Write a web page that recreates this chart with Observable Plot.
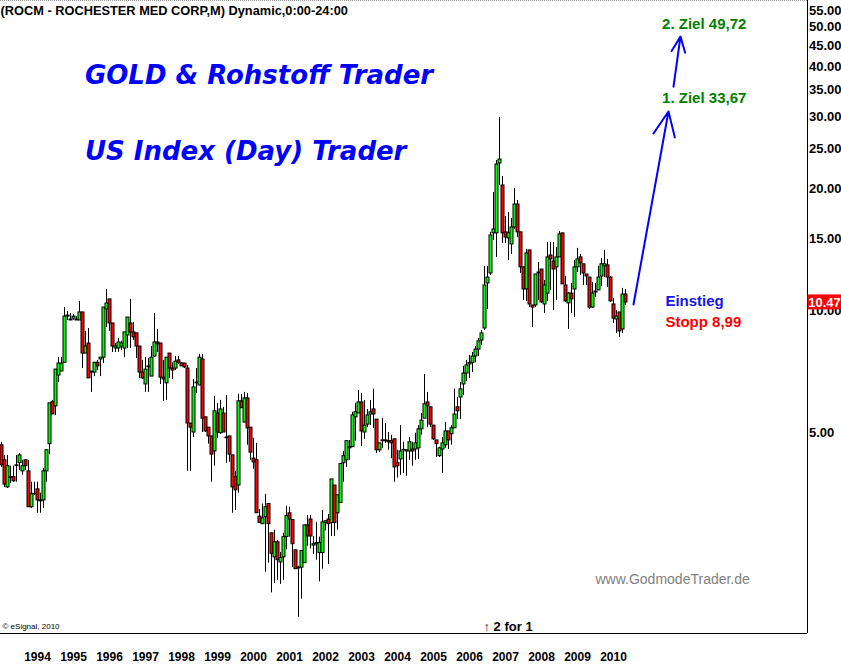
<!DOCTYPE html>
<html><head><meta charset="utf-8">
<script src="https://cdn.jsdelivr.net/npm/d3@7"></script>
<script src="https://cdn.jsdelivr.net/npm/@observablehq/plot@0.6"></script>
<style>
html,body{margin:0;padding:0;background:#fff;overflow:hidden}
#chart svg{display:block}
</style></head><body><div id="chart"></div>
<script>
// Monthly bars of ROCM, first bar = January 1993
const startYear = 1993;
const open = [
4.65,4.27,3.66,3.88,3.88,4.13,4.20,4.01,4.27,4.01,
3.27,3.52,3.62,3.38,3.40,4.01,4.68,5.94,5.80,6.91,
7.07,7.43,9.66,9.50,9.55,9.50,9.45,9.89,7.83,8.29,
7.03,7.03,7.43,7.57,7.65,10.06,10.65,9.29,8.06,8.06,
8.15,8.06,8.68,9.29,8.83,8.78,8.15,7.03,6.57,7.24,
6.87,7.70,8.34,8.29,6.83,6.61,7.83,7.19,7.19,7.53,
7.40,7.40,7.19,5.26,5.00,6.61,6.53,7.57,5.45,5.14,
4.89,4.49,5.57,4.98,5.57,4.86,4.89,4.39,3.88,3.70,
5.97,5.29,6.07,5.14,4.31,4.27,3.10,2.97,3.09,3.33,
2.82,2.46,2.68,2.39,2.46,2.76,3.16,3.04,2.56,2.32,
2.32,2.38,2.95,3.05,2.63,2.65,2.52,2.52,2.99,3.05,
2.99,3.70,3.16,3.35,4.20,4.27,4.57,4.60,5.45,5.57,
5.93,5.00,5.23,5.54,5.70,5.38,4.52,4.76,4.78,4.76,
4.76,4.81,4.20,4.29,4.52,4.49,4.49,4.54,4.54,4.57,
5.09,5.41,5.93,5.77,5.20,4.78,4.37,4.54,4.65,5.03,
4.95,5.12,5.77,6.10,6.57,6.99,7.36,7.43,7.70,8.01,
8.43,9.03,11.66,12.34,15.50,15.50,23.05,20.35,15.59,15.06,
14.55,16.03,18.26,15.59,12.78,11.27,14.07,10.29,10.29,12.34,
12.62,10.35,11.01,13.67,13.22,12.78,13.52,15.50,11.53,10.41,
11.01,11.27,12.78,13.52,13.00,12.27,12.06,10.17,11.08,11.21,
12.13,12.85,12.92,12.06,10.35,9.50,9.89,8.98,10.95];
const high = [
4.73,4.39,4.39,4.13,4.13,4.39,4.44,4.27,4.29,4.27,
3.77,3.77,3.77,3.54,4.08,4.52,5.90,6.00,7.15,7.65,
7.65,10.17,9.94,9.83,9.78,9.66,10.53,9.89,8.88,9.03,
7.07,7.43,7.53,7.65,10.17,11.27,10.65,9.29,8.29,8.53,
8.39,8.83,9.61,10.65,9.34,8.78,8.15,7.53,7.65,7.61,
8.15,9.83,8.98,8.29,7.53,7.65,7.83,7.43,7.70,7.70,
7.43,7.40,7.32,5.26,6.76,7.19,7.79,7.79,5.45,5.14,
4.89,6.14,5.90,6.00,5.77,6.17,4.89,4.39,4.01,6.21,
6.21,6.28,6.24,5.14,4.84,4.70,3.23,3.33,3.52,3.33,
2.82,2.87,2.71,2.53,2.82,3.29,3.27,3.04,2.56,2.34,
2.55,2.95,3.12,3.12,2.77,3.00,2.76,3.21,3.02,3.14,
3.83,3.70,3.50,4.18,4.49,4.76,4.78,5.61,5.90,6.35,
6.24,6.00,5.70,6.00,6.39,5.38,4.70,5.41,5.26,5.00,
4.92,4.81,4.52,5.20,4.73,4.52,4.86,4.73,4.98,5.20,
5.57,6.95,6.28,5.77,5.20,4.78,4.60,4.86,5.29,5.03,
5.20,6.39,6.10,6.64,7.28,7.53,7.74,7.88,8.15,8.53,
8.93,12.85,12.85,15.59,19.56,23.45,29.94,21.42,17.06,17.45,
16.87,20.01,18.69,15.59,12.78,14.15,14.07,10.29,12.27,13.14,
12.62,11.86,14.72,14.72,14.72,14.31,15.67,15.50,12.13,11.08,
11.66,13.29,14.23,13.75,13.00,12.27,12.06,11.73,11.66,12.85,
13.44,14.07,13.37,12.13,10.71,10.00,9.89,11.34,11.27];
const low = [
4.10,3.66,3.64,3.74,3.77,3.77,4.03,3.92,4.03,3.27,
3.25,3.50,3.16,3.16,3.25,3.77,4.41,5.54,5.51,6.64,
7.07,7.43,9.45,9.45,9.45,9.45,9.45,7.19,7.83,6.80,
6.28,6.87,7.11,6.87,7.40,9.08,8.88,7.88,7.88,7.88,
7.97,7.65,8.06,8.06,8.43,7.61,6.80,6.76,6.28,6.28,
6.87,7.65,7.88,6.57,5.97,6.00,6.80,6.76,7.11,7.36,
7.28,7.19,4.01,4.01,4.86,6.24,6.53,5.00,5.00,4.68,
3.77,4.13,4.84,4.95,5.00,4.20,4.22,3.16,3.21,3.54,
5.74,5.29,4.65,4.27,4.06,3.16,2.99,2.97,2.26,2.38,
2.01,2.12,2.16,2.11,2.16,2.57,2.76,2.32,2.30,1.75,
1.94,2.38,2.62,2.58,2.50,2.42,2.14,2.30,2.86,2.36,
2.77,2.77,2.87,3.35,3.77,4.10,4.27,4.60,4.76,5.57,
4.62,4.81,5.14,5.20,5.12,4.44,4.46,4.57,4.70,4.52,
4.31,3.77,3.86,3.92,3.96,3.90,4.27,4.13,4.27,4.29,
4.92,5.41,5.14,5.14,4.78,4.34,4.34,3.96,4.57,4.54,
4.65,5.12,5.38,5.38,6.17,6.68,6.80,7.03,7.43,7.70,
8.20,8.93,10.06,12.20,14.89,13.52,20.35,14.64,14.64,13.29,
13.75,15.85,15.14,12.34,10.59,10.53,10.17,9.08,10.17,10.59,
10.41,9.83,10.53,11.21,10.00,10.59,13.52,11.60,10.47,8.98,
9.83,9.61,12.41,12.20,11.53,11.53,10.06,10.12,10.77,11.21,
11.46,12.06,11.40,10.47,9.29,8.78,8.58,8.78,10.29];
const close = [
4.15,3.72,4.13,3.86,3.79,4.15,4.39,4.13,4.13,3.27,
3.52,3.53,3.40,3.40,4.01,4.52,5.90,5.54,7.15,7.40,
7.40,9.66,9.72,9.45,9.66,9.45,9.89,7.83,8.15,6.80,
7.07,7.43,7.28,7.65,10.17,10.41,9.29,8.15,8.15,8.34,
8.29,8.83,9.61,8.83,8.58,8.15,7.03,6.80,7.15,7.28,
7.65,8.34,8.25,6.83,6.76,7.65,7.19,7.11,7.48,7.43,
7.28,7.24,5.26,5.14,6.46,6.64,7.65,5.41,5.03,4.89,
4.41,5.64,5.00,5.70,5.00,4.84,4.41,3.66,3.60,5.97,
5.74,6.07,5.12,4.46,4.22,3.16,2.99,3.07,3.27,2.97,
2.51,2.68,2.42,2.45,2.76,3.11,3.05,2.65,2.30,2.31,
2.55,2.95,2.77,2.77,2.65,2.67,2.67,3.00,3.02,2.97,
3.83,2.99,3.50,4.18,4.37,4.76,4.60,5.51,5.61,5.93,
5.03,5.20,5.51,5.61,5.54,4.52,4.70,4.78,4.76,4.73,
4.70,4.10,4.13,4.49,4.53,4.52,4.73,4.49,4.70,5.09,
5.35,5.87,5.80,5.23,4.81,4.68,4.57,4.70,5.03,4.78,
5.12,5.54,5.64,6.39,6.99,7.32,7.43,7.70,8.01,8.39,
8.78,11.53,12.06,15.32,15.85,22.92,23.58,15.50,15.14,15.50,
16.03,18.26,15.59,12.78,11.27,13.83,10.35,10.17,12.27,12.41,
10.47,11.53,13.52,13.37,12.62,13.52,15.41,11.60,10.53,11.01,
10.65,12.78,13.37,13.07,12.34,12.13,10.17,11.01,11.14,12.06,
13.00,13.00,12.06,10.53,9.55,9.66,8.88,10.95,10.47];

const yearTicks = [1994,1995,1996,1997,1998,1999,2000,2001,2002,2003,2004,2005,2006,2007,2008,2009,2010];
const priceTicks = [5,10,15,20,25,30,35,40,45,50,55];
const titleText = "(ROCM - ROCHESTER MED CORP,M) Dynamic,0:00-24:00";
const headlines = ["GOLD & Rohstoff Trader", "US Index (Day) Trader"];
const targetLabels = ["2. Ziel 49,72", "1. Ziel 33,67"];
const entryLabel = "Einstieg";
const stopLabel = "Stopp 8,99";
const watermark = "www.GodmodeTrader.de";
const splitNote = "\u2191 2 for 1";
const copyright = "\u00a9 eSignal, 2010";

const bars = open.map((o, i) => ({i, o, h: high[i], l: low[i], c: close[i]}));
const last = bars[bars.length - 1];
const xDomain = [-1 / 3, 806 / 3];
const yDomain = [1.596, 58.2];
const GREEN = "#00ff00", RED = "#ff0000";
const F = "'Liberation Sans', Arial, Helvetica, sans-serif";
const HF = "'DejaVu Sans', sans-serif";

const chart = Plot.plot({
  width: 841, height: 664,
  marginTop: 0, marginBottom: 31, marginLeft: 0, marginRight: 34,
  style: {fontFamily: F, background: "#fff", color: "#000", overflow: "visible"},
  x: {type: "linear", domain: xDomain, axis: null},
  y: {type: "log", domain: yDomain, axis: null},
  marks: [
    Plot.ruleY([yDomain[1]], {stroke: "#999", strokeDasharray: "1,1"}),
    Plot.ruleX(bars, {x: "i", y1: "l", y2: "h", stroke: "#000", strokeWidth: 1}),
    Plot.rect(bars, {x1: d => d.i - 0.5, x2: d => d.i + 0.5, y1: "o", y2: "c",
      fill: d => d.c >= d.o ? GREEN : RED, stroke: "#000", strokeWidth: 1,
      insetLeft: 0.5, insetRight: -0.5}),
    Plot.ruleY([yDomain[0]], {stroke: "#000", strokeWidth: 1}),
    Plot.ruleX([xDomain[1]], {stroke: "#000", strokeWidth: 1}),
    Plot.axisY({anchor: "right", ticks: priceTicks, tickFormat: d => d.toFixed(2),
      tickSize: 0, tickPadding: 1.5, fontSize: 13, fontWeight: "bold", fill: "#000", label: null}),
    Plot.axisX({ticks: yearTicks.map(y => (y - startYear) * 12), tickFormat: v => String(startYear + v / 12),
      tickSize: 0, tickPadding: 19, fontSize: 12, fontWeight: "bold", fill: "#000", label: null}),
    // last price label
    Plot.rect([last], {x1: () => xDomain[1], x2: () => xDomain[1], y1: "c", y2: "c",
      insetRight: -34, insetLeft: 0.5, insetTop: -7.5, insetBottom: -7.5, fill: "#ff0000"}),
    Plot.text([last], {x: () => xDomain[1], y: "c", text: d => d.c.toFixed(2), dx: 17,
      fill: "#fff", fontSize: 13, fontWeight: "bold", textAnchor: "middle"}),
    // title
    Plot.text([titleText], {x: () => xDomain[0], y: () => 54.9, text: d => d, textAnchor: "start",
      fontSize: 12.8, fontWeight: "bold", fill: "#000"}),
    // headlines
    Plot.text([headlines[0]], {x: () => 27.8, y: () => 38.0, text: d => d, textAnchor: "start",
      fontFamily: HF, fontSize: 26, fontWeight: "bold", fontStyle: "italic", fill: "#0000ff"}),
    Plot.text([headlines[1]], {x: () => 27.8, y: () => 24.68, text: d => d, textAnchor: "start",
      fontFamily: HF, fontSize: 26, fontWeight: "bold", fontStyle: "italic", fill: "#0000ff"}),
    // targets
    Plot.text([targetLabels[0]], {x: () => 220.2, y: () => 50.9, text: d => d, textAnchor: "start",
      fontSize: 15, fontWeight: "bold", fill: "#008000"}),
    Plot.text([targetLabels[1]], {x: () => 220.2, y: () => 33.37, text: d => d, textAnchor: "start",
      fontSize: 15, fontWeight: "bold", fill: "#008000"}),
    Plot.text([entryLabel], {x: () => 221.3, y: () => 10.57, text: d => d, textAnchor: "start",
      fontSize: 15, fontWeight: "bold", fill: "#1414ee"}),
    Plot.text([stopLabel], {x: () => 221.3, y: () => 9.35, text: d => d, textAnchor: "start",
      fontSize: 15, fontWeight: "bold", fill: "#ff0000"}),
    // arrows
    Plot.arrow([0], {x1: () => 210.67, y1: () => 10.35, x2: () => 222.33, y2: () => 30.98,
      stroke: "#0000ff", strokeWidth: 2, headLength: 20, headAngle: 48}),
    Plot.arrow([0], {x1: () => 224.0, y1: () => 35.66, x2: () => 226.33, y2: () => 47.4,
      stroke: "#0000ff", strokeWidth: 2, headLength: 20, headAngle: 48}),
    // footnotes
    Plot.text([watermark], {x: () => 198.0, y: () => 2.163, text: d => d, textAnchor: "start",
      fontSize: 14, fontWeight: "normal", fill: "#808080"}),
    Plot.text([splitNote], {x: () => 160.67, y: () => 1.653, text: d => d, textAnchor: "start",
      fontSize: 13, fontWeight: "bold", fill: "#000"}),
    Plot.text([copyright], {x: () => 0.33, y: () => 1.66, text: d => d, textAnchor: "start",
      fontSize: 8, fontWeight: "normal", fill: "#000"})
  ]
});
document.getElementById("chart").append(chart);
</script>
</body></html>
